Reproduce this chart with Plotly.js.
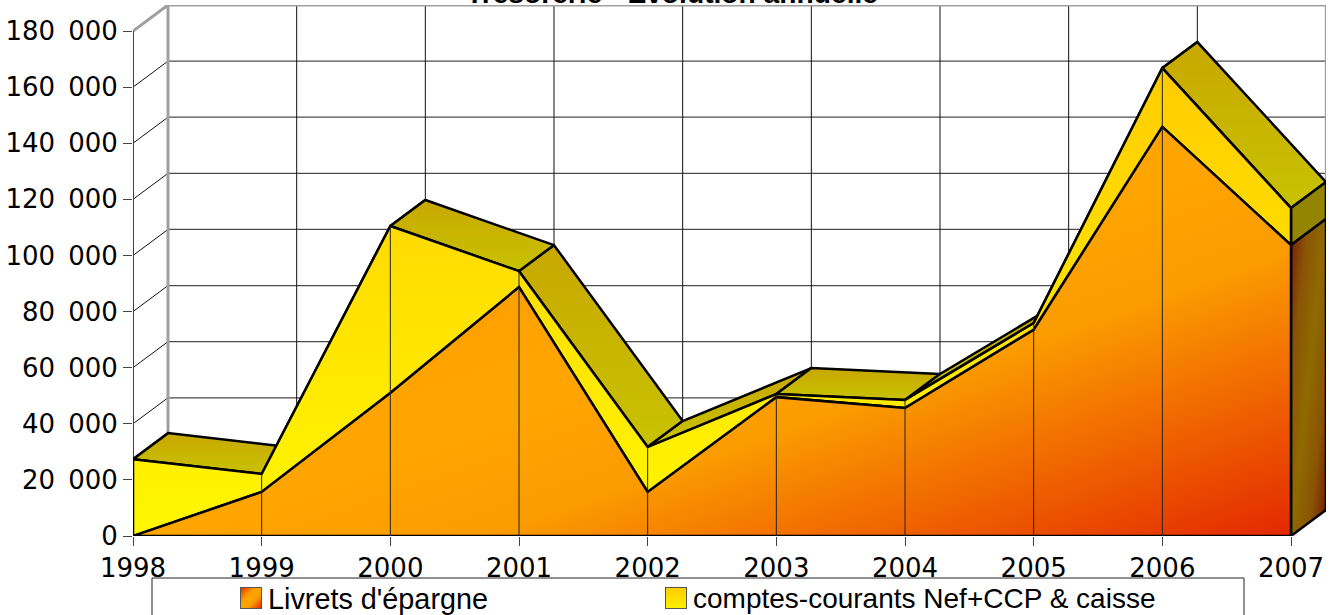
<!DOCTYPE html>
<html><head><meta charset="utf-8">
<script src="https://cdn.plot.ly/plotly-3.0.1.min.js"></script>
<style>html,body{margin:0;padding:0;background:#fff;overflow:hidden}</style>
</head><body><div id="chart" style="width:1335px;height:615px"></div>
<script>
const years = [1998,1999,2000,2001,2002,2003,2004,2005,2006,2007];
const livrets = [0,15700,51000,88700,15700,49500,45600,73500,145800,103700];
const comptes = [27400,6400,59500,5700,16000,1100,2900,2400,21000,13200];
const yTicks = [0,20000,40000,60000,80000,100000,120000,140000,160000,180000];
const titleText = "Trésorerie - Evolution annuelle";
const seriesNames = ["Livrets d'épargne","comptes-courants Nef+CCP & caisse"];

const W=1335,H=615,L=133,R=9,T=5,B=79;
const DX=35/(1158/9), DY=26*(180000/505), YMAX=180000;
const X0=years[0], X1=years[years.length-1];
const totals=livrets.map((v,i)=>v+comptes[i]);
const px=p=>(p-L)/(W-L-R);
const py=p=>(H-B-p)/(H-B-T);

const traces=[];
function poly(x,y,extra){traces.push(Object.assign({type:'scatter',mode:'lines',x,y,fill:'toself',
  line:{color:'#000',width:2.5,shape:'linear'},hoverinfo:'skip',showlegend:false,cliponaxis:false},extra||{}));}
function lines(segs,color,width){const x=[],y=[];segs.forEach(s=>{x.push(s[0],s[2],null);y.push(s[1],s[3],null)});
  traces.push({type:'scatter',mode:'lines',x,y,line:{color,width},hoverinfo:'skip',showlegend:false,cliponaxis:false});}

// back wall grid
lines(yTicks.slice(1,-1).map(v=>[X0+DX,v+DY,X1+DX,v+DY]),'#4a4a4a',1.3);
lines(years.slice(1,-1).map(v=>[v+DX,DY,v+DX,YMAX+DY]),'#111',1);
// left wall diagonals
lines(yTicks.slice(1,-1).map(v=>[X0,v,X0+DX,v+DY]),'#111',1);
// wall frame
lines([[X0+DX,DY,X0+DX,YMAX+DY],[X0+DX,YMAX+DY,X1+DX,YMAX+DY],[X0,YMAX,X0+DX,YMAX+DY]],'#a0a0a0',3);
lines([[X1+DX,DY,X1+DX,YMAX+DY]],'#a0a0a0',2.4);
lines([[X0,0,X0,YMAX]],'#444',2);

// top faces of the upper series
for(let i=0;i<years.length-1;i++){
  poly([years[i],years[i]+DX,years[i+1]+DX,years[i+1],years[i]],
       [totals[i],totals[i]+DY,totals[i+1]+DY,totals[i+1],totals[i]],
       {fillgradient:{type:'vertical',colorscale:[[0,'#c8c200'],[1,'#c8a800']]}});
}
// end faces at the last year
const n=years.length-1;
poly([X1,X1+DX,X1+DX,X1,X1],[totals[n],totals[n]+DY,livrets[n]+DY,livrets[n],totals[n]],{fillcolor:'#948500'});
poly([X1,X1+DX,X1+DX,X1,X1],[livrets[n],livrets[n]+DY,DY,0,livrets[n]],
     {uid:'sideFaceDiag',fillgradient:{type:'horizontal',colorscale:[[0,'#721600'],[0.25,'#8a5405'],[0.5,'#8f6a00'],[0.75,'#8a5405'],[1,'#721a08']]}});
// front faces
poly(years.concat(years.slice().reverse(),[years[0]]),
     totals.concat(livrets.slice().reverse(),[totals[0]]),
     {fillgradient:{type:'vertical',colorscale:[[0,'#fff700'],[1,'#ffcc00']]}});
poly(years.concat([X1,X0,X0]),livrets.concat([0,0,livrets[0]]),
     {uid:'orangeFrontDiag',fillgradient:{type:'horizontal',
      colorscale:[[0,'#e32800'],[0.35,'#fb9c00'],[0.5,'#ffa500'],[0.68,'#fd9f00'],[0.84,'#f07e00'],[1,'#e32800']]}});
// front verticals
lines(years.slice(1,-1).map((v,i)=>[v,0,v,totals[i+1]]),'#222',1);

const swatch=(x2,y2,stops)=>'data:image/svg+xml;utf8,'+encodeURIComponent(
 `<svg xmlns="http://www.w3.org/2000/svg" width="22" height="22"><defs><linearGradient id="g" x1="0" y1="0" x2="${x2}" y2="${y2}">`+
 stops.map(s=>`<stop offset="${s[0]}" stop-color="${s[1]}"/>`).join('')+
 `</linearGradient></defs><rect x=".5" y=".5" width="21" height="21" fill="url(#g)" stroke="#555"/></svg>`);

const swatchBox=(x)=>({xref:'paper',yref:'paper',x:px(x),y:py(587),sizex:22/(W-L-R),sizey:22/(H-B-T),xanchor:'left',yanchor:'top',layer:'above'});
const legendSizes=[28.8,28];
const layout={
  width:W,height:H,margin:{l:L,r:R,t:T,b:B,pad:0},
  paper_bgcolor:'#fff',plot_bgcolor:'#fff',showlegend:false,separators:'.\u2002',
  font:{family:'"DejaVu Sans",sans-serif',size:26,color:'#000'},
  title:{text:titleText,x:672/W,xanchor:'center',xref:'container',y:1-3/H,yanchor:'bottom',
         font:{family:'"Liberation Sans",sans-serif',size:28.2,color:'#000',weight:'bold'},automargin:false},
  xaxis:{range:[X0,X1+DX],tickvals:years,ticktext:years.map(String),showgrid:false,zeroline:false,showline:false,
         ticks:'outside',ticklen:9,tickcolor:'#444',tickwidth:1.2,tickangle:0,fixedrange:true},
  yaxis:{range:[0,YMAX+DY],tickvals:yTicks,tickformat:',d',showgrid:false,zeroline:false,showline:false,
         ticks:'outside',ticklen:9,tickcolor:'#444',tickwidth:1.2,fixedrange:true},
  shapes:[{type:'rect',xref:'paper',yref:'paper',x0:px(152),x1:px(1244),y0:py(630),y1:py(578),
           line:{color:'#222',width:1},fillcolor:'#fff',layer:'below'}],
  images:[
   Object.assign({source:swatch(1,1,[[0,'#e32800'],[.35,'#fb9c00'],[.5,'#ffa500'],[.65,'#fb9c00'],[1,'#e32800']])},swatchBox(240)),
   Object.assign({source:swatch(0,1,[[0,'#ffcc00'],[1,'#fff000']])},swatchBox(665))
  ],
  annotations:seriesNames.map((t,i)=>({text:t,showarrow:false,xref:'paper',yref:'paper',x:px(i?691:266),y:py(598.5),
     xanchor:'left',yanchor:'middle',font:{family:'"Liberation Sans",sans-serif',size:legendSizes[i],color:'#000'}}))
};
Plotly.newPlot('chart',traces,layout,{displayModeBar:false,responsive:false}).then(gd=>{
  // corner-to-corner direction for the two diagonal gradients
  gd.querySelectorAll('linearGradient').forEach(g=>{
    if(g.id.indexOf('Diag')>=0){
      g.setAttribute('gradientUnits','objectBoundingBox');
      g.setAttribute('x1','0');g.setAttribute('y1','0');g.setAttribute('x2','1');g.setAttribute('y2','1');
    }
  });
});
</script></body></html>
